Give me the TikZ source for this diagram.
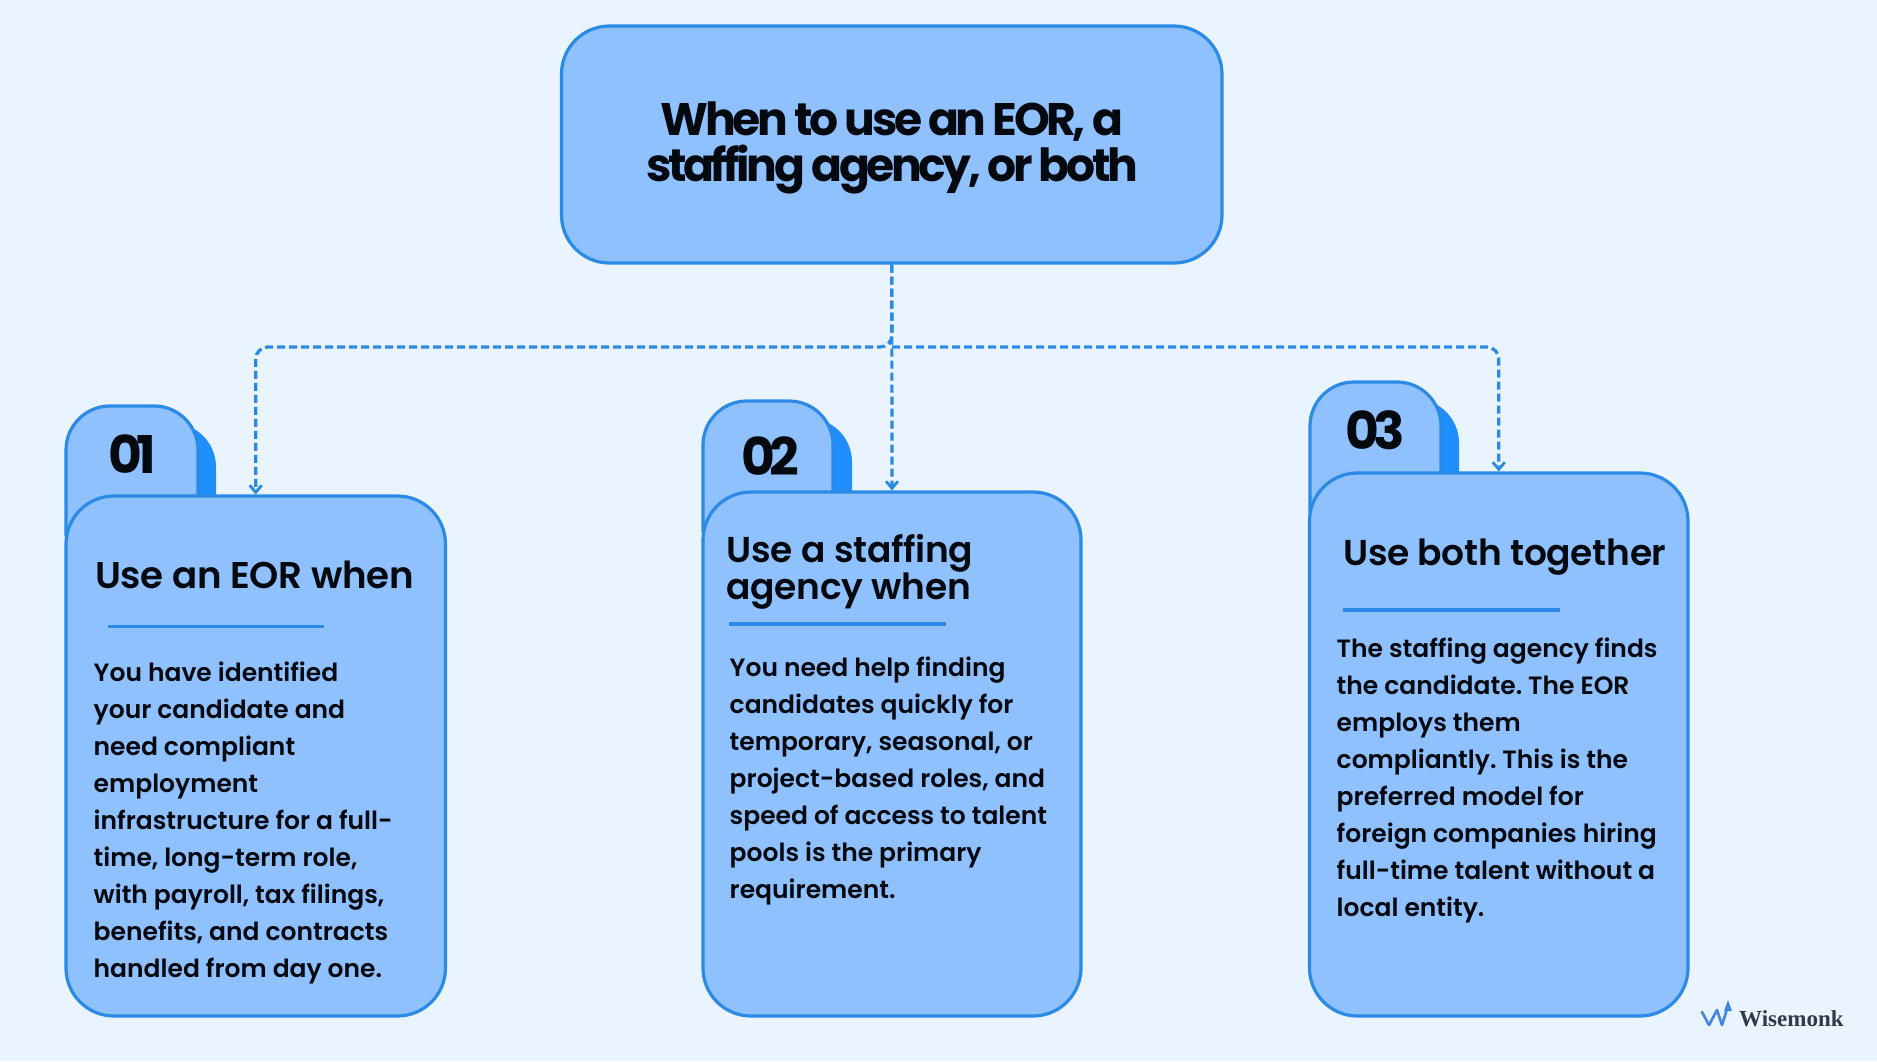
\documentclass[tikz,border=0pt]{standalone}
\usepackage{fontspec}
\setmainfont{Poppins}[UprightFont=*-Medium,BoldFont=*-SemiBold]
\newfontfamily\logofont{Liberation Serif}
\newfontfamily\titlefont{Poppins}[UprightFont=*-Bold,LetterSpace=-7.5]
\newfontfamily\numfont{Poppins}[UprightFont=*-Bold,LetterSpace=-11]
\newfontfamily\headfont{Poppins}[UprightFont=*-SemiBold,LetterSpace=-0.8]
\newfontfamily\bodyfont{Poppins}[UprightFont=*-SemiBold]
\frenchspacing
\definecolor{bgc}{HTML}{E9F4FF}
\definecolor{fillc}{HTML}{8FC1FF}
\definecolor{linec}{HTML}{2B8AE6}
\definecolor{darkc}{HTML}{1F8FFF}
\definecolor{inkc}{HTML}{04080F}
\definecolor{logoc}{HTML}{2F3A45}
\definecolor{logob}{HTML}{3F86E8}
\usetikzlibrary{arrows.meta}
\tikzset{
 x=1pt,y=-1pt,
 card/.style={draw=linec,fill=fillc,line width=3.2pt,rounded corners=48pt,inner sep=0pt},
 tabshape/.style={draw=linec,fill=fillc,line width=3.2pt,rounded corners=44pt},
 tabback/.style={fill=darkc,rounded corners=44pt},
 numlabel/.style={font=\numfont\fontsize{52}{52}\selectfont,text=inkc,inner sep=0pt,anchor=center},
 headlabel/.style={font=\headfont\fontsize{36}{37}\selectfont,text=inkc,inner sep=0pt,anchor=west,align=left},
 bodylabel/.style={font=\bodyfont\fontsize{25}{37}\selectfont,text=inkc,inner sep=0pt,anchor=north west,align=left},
 rulebar/.style={draw=linec,line width=3.2pt},
 conn/.style={draw=linec,line width=3.2pt,dash pattern=on 8pt off 4pt,rounded corners=12pt},
 tiparrow/.style={-{Straight Barb[length=7pt,width=12pt,line width=2.8pt]}},
}
\begin{document}
\begin{tikzpicture}
\useasboundingbox (0,0) rectangle (1877,1061);
\fill[bgc] (0,0) rectangle (1877,1061);
% tabs
\fill[tabback] (84,560) -- (84,423) -- (216,423) -- (216,560) -- cycle;
\draw[tabshape] (66,536) -- (66,406) -- (198,406) -- (198,536);
\fill[tabback] (721,560) -- (721,418) -- (852,418) -- (852,560) -- cycle;
\draw[tabshape] (703,532) -- (703,401) -- (833,401) -- (833,532);
\fill[tabback] (1327,540) -- (1327,399) -- (1459,399) -- (1459,540) -- cycle;
\draw[tabshape] (1310,513) -- (1310,382) -- (1441,382) -- (1441,513);
% boxes
\node[card,minimum width=660.5pt,minimum height=237pt] (top) at (891.75,144.5) {};
\node[card,minimum width=379.5pt,minimum height=520pt] (c1) at (255.75,756) {};
\node[card,minimum width=378pt,minimum height=524pt] (c2) at (892,754) {};
\node[card,minimum width=378.5pt,minimum height=543pt] (c3) at (1498.75,744.5) {};
% connectors
\coordinate (jn) at (892,347);
\draw[conn,tiparrow] (top.south) -- (c2.north);
\draw[conn,tiparrow] (top.south) -- (jn) -- (c1.north |- jn) -- (c1.north);
\draw[conn,tiparrow] (jn) -- (c3.north |- jn) -- (c3.north);
% title
\node[font=\titlefont\fontsize{45.6}{46}\selectfont,text=inkc,align=center,inner sep=0pt] (title) at (892,148) {When to use an EOR, a\\staffing agency, or both};
% numbers
\node[numlabel] (n1) at (132,454) {01};
\node[numlabel] (n2) at (770,456) {02};
\node[numlabel] (n3) at (1375,430) {03};
% headings
\node[headlabel,font=\headfont\fontsize{37.2}{37}\selectfont] (h1) at (95,575) {Use an EOR when};
\node[headlabel] (h2) at (726.5,571.5) {Use a staffing\\agency when};
\node[headlabel] (h3) at (1343,557) {Use both together};
% rules
\draw[rulebar] (108,626.5) -- (324,626.5);
\draw[rulebar] (729,624) -- (946,624);
\draw[rulebar] (1343,610) -- (1560,610);
% bodies
\node[bodylabel] (b1) at (93.5,661.5) {You have identified\\your candidate and\\need compliant\\employment\\infrastructure for a full-\\time, long-term role,\\with payroll, tax filings,\\benefits, and contracts\\handled from day one.};
\node[bodylabel] (b2) at (729.5,656.5) {You need help finding\\candidates quickly for\\temporary, seasonal, or\\project-based roles, and\\speed of access to talent\\pools is the primary\\requirement.};
\node[bodylabel] (b3) at (1336.5,637.5) {The staffing agency finds\\the candidate. The EOR\\employs them\\compliantly. This is the\\preferred model for\\foreign companies hiring\\full-time talent without a\\local entity.};
% logo
\draw[logob,line width=2.6pt,line join=round,line cap=round] (1702,1012) -- (1709,1025) -- (1717,1010) -- (1722,1025) -- (1728,1006);
\fill[logob] (1728,1000) -- (1732,1011) -- (1724,1011) -- cycle;
\node[font=\logofont\bfseries\fontsize{23}{23}\selectfont,text=logoc,inner sep=0pt,anchor=base west] (logo) at (1739,1026) {Wisemonk};
\end{tikzpicture}
\end{document}
